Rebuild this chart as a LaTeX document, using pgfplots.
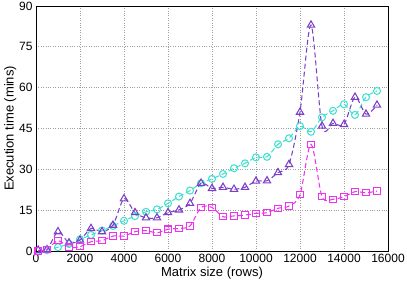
\documentclass[border=0pt]{standalone}
\usepackage{fontspec}
\setmainfont{Liberation Sans}
\usepackage{pgfplots}
\pgfplotsset{compat=1.18}
\definecolor{cpurple}{HTML}{7B3FC7}
\definecolor{cturq}{HTML}{40E0D0}
\definecolor{cmag}{HTML}{F030F0}
\begin{document}
\begin{tikzpicture}
\useasboundingbox (-36pt,-38pt) rectangle (371pt,251pt);
\begin{axis}[
  at={(0,0)}, anchor=south west,
  scale only axis, width=352pt, height=245pt,
  xmin=0, xmax=16000, ymin=0, ymax=90,
  xtick={0,2000,...,16000}, ytick={0,15,...,90},
  scaled x ticks=false,
  /pgf/number format/assume math mode=true,
  /pgf/number format/.cd, 1000 sep={}, /pgfplots/.cd,
  major tick length=0pt,
  grid=major,
  grid style={gray!75, dotted, line width=0.7pt},
  axis line style={black, line width=0.9pt},
  tick label style={font=\fontsize{12}{14}\selectfont},
  label style={font=\fontsize{13}{15}\selectfont},
  xlabel={Matrix size (rows)},
  ylabel={Execution time (mins)},
  xlabel style={yshift=3pt},
  ylabel style={yshift=-4pt},
  every axis plot/.append style={line width=1.05pt, dash pattern=on 5pt off 3pt, smooth, tension=0.5},
]
\addplot[cturq, mark=o, mark size=3.5pt, mark options={solid}] coordinates {
(100,0.1) (500,0.3) (1000,1.4) (1500,2.6) (2000,4.3) (2500,5.9) (3000,7.5) (3500,9.2)
(4000,11.1) (4500,12.8) (5000,14.4) (5500,15.3) (6000,17.5) (6500,20.0) (7000,22.2) (7500,24.9)
(8000,26.5) (8500,28.3) (9000,30.4) (9500,32.2) (10000,34.4) (10500,34.6) (11000,39.2) (11500,41.4)
(12000,45.9) (12500,43.8) (13000,49.1) (13500,51.5) (14000,53.9) (14500,50.0) (15000,56.5) (15500,58.8)
};
\addplot[cpurple, mark=triangle, mark size=4.2pt, mark options={solid}] coordinates {
(100,0.3) (500,0.5) (1000,7.1) (1500,3.0) (2000,4.0) (2500,8.3) (3000,7.1) (3500,9.5)
(4000,19.2) (4500,14.1) (5000,12.2) (5500,12.2) (6000,14.1) (6500,15.1) (7000,17.5) (7500,24.9)
(8000,23.0) (8500,23.4) (9000,22.7) (9500,23.4) (10000,25.7) (10500,25.8) (11000,28.8) (11500,31.8)
(12000,51.0) (12500,83.0) (13000,45.9) (13500,46.9) (14000,46.5) (14500,56.5) (15000,50.3) (15500,53.6)
};
\addplot[cmag, mark=square, mark size=3.2pt, mark options={solid}] coordinates {
(100,0.0) (500,0.6) (1000,3.8) (1500,1.4) (2000,1.6) (2500,3.4) (3000,3.8) (3500,5.5)
(4000,5.5) (4500,7.1) (5000,7.5) (5500,6.7) (6000,8.0) (6500,8.3) (7000,9.2) (7500,16.0)
(8000,16.0) (8500,12.6) (9000,12.9) (9500,13.2) (10000,13.8) (10500,14.1) (11000,15.7) (11500,16.5)
(12000,20.7) (12500,39.2) (13000,20.0) (13500,19.0) (14000,20.0) (14500,21.8) (15000,21.4) (15500,22.0)
};
\end{axis}
\end{tikzpicture}
\end{document}
